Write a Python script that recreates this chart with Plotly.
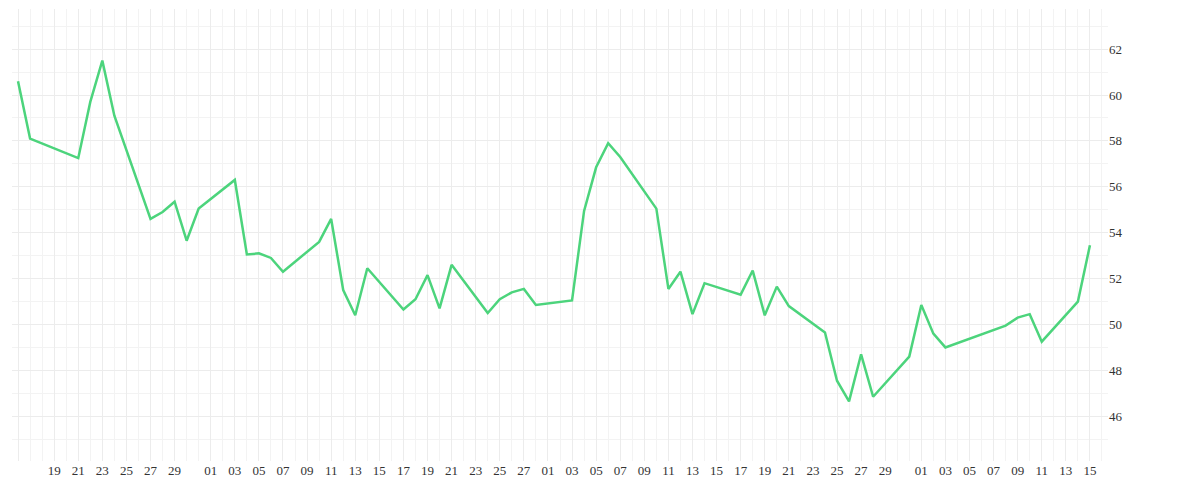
import pandas as pd
import plotly.graph_objects as go

dates = [
    "2023-01-16", "2023-01-17", "2023-01-21", "2023-01-22", "2023-01-23", "2023-01-24",
    "2023-01-27", "2023-01-28", "2023-01-29", "2023-01-30", "2023-01-31",
    "2023-02-03", "2023-02-04", "2023-02-05", "2023-02-06", "2023-02-07",
    "2023-02-10", "2023-02-11", "2023-02-12", "2023-02-13", "2023-02-14",
    "2023-02-17", "2023-02-18", "2023-02-19", "2023-02-20", "2023-02-21",
    "2023-02-24", "2023-02-25", "2023-02-26", "2023-02-27", "2023-02-28",
    "2023-03-03", "2023-03-04", "2023-03-05", "2023-03-06", "2023-03-07",
    "2023-03-10", "2023-03-11", "2023-03-12", "2023-03-13", "2023-03-14",
    "2023-03-17", "2023-03-18", "2023-03-19", "2023-03-20", "2023-03-21",
    "2023-03-24", "2023-03-25", "2023-03-26", "2023-03-27", "2023-03-28",
    "2023-03-31", "2023-04-01", "2023-04-02", "2023-04-03",
    "2023-04-08", "2023-04-09", "2023-04-10", "2023-04-11",
    "2023-04-14", "2023-04-15",
]
values = [
    60.6, 58.1, 57.25, 59.7, 61.5, 59.1,
    54.6, 54.9, 55.35, 53.65, 55.05,
    56.3, 53.05, 53.1, 52.9, 52.3,
    53.6, 54.6, 51.5, 50.4, 52.45,
    50.65, 51.1, 52.15, 50.7, 52.6,
    50.5, 51.1, 51.4, 51.55, 50.85,
    51.05, 54.95, 56.85, 57.9, 57.3,
    55.05, 51.55, 52.3, 50.45, 51.8,
    51.3, 52.35, 50.4, 51.65, 50.8,
    49.65, 47.55, 46.65, 48.7, 46.85,
    48.6, 50.85, 49.6, 49.0,
    49.95, 50.3, 50.45, 49.25,
    51.0, 53.45,
]

# tick labels every second day, restarting each month
tick_dates = pd.to_datetime(
    ["2023-01-16"]
    + [f"2023-01-{d:02d}" for d in range(19, 30, 2)]
    + [f"2023-02-{d:02d}" for d in range(1, 28, 2)]
    + [f"2023-03-{d:02d}" for d in range(1, 30, 2)]
    + [f"2023-04-{d:02d}" for d in range(1, 16, 2)]
)
tick_text = ["16Jän"] + [d.strftime("%d") for d in tick_dates[1:]]

fig = go.Figure(
    go.Scatter(
        x=pd.to_datetime(dates), y=values, mode="lines",
        line=dict(color="#4cd47c", width=2.5),
    )
)
fig.update_layout(
    width=1200, height=500, showlegend=False,
    plot_bgcolor="white", paper_bgcolor="white",
    margin=dict(l=4, r=100, t=1, b=47),
    font=dict(family="Liberation Serif", size=13, color="#333"),
)
fig.update_xaxes(
    range=["2023-01-15 12:00", "2023-04-16 12:00"],
    tickvals=tick_dates, ticktext=tick_text, tickangle=0,
    showgrid=True, gridcolor="#ececec", zeroline=False,
    minor=dict(dtick=86400000, showgrid=True, gridcolor="#f3f3f3"),
)
fig.update_yaxes(
    side="right", range=[44.05, 63.75], dtick=2,
    showgrid=True, gridcolor="#ececec", zeroline=False,
    minor=dict(dtick=1, showgrid=True, gridcolor="#f3f3f3"),
)
fig.write_html("out.html")
